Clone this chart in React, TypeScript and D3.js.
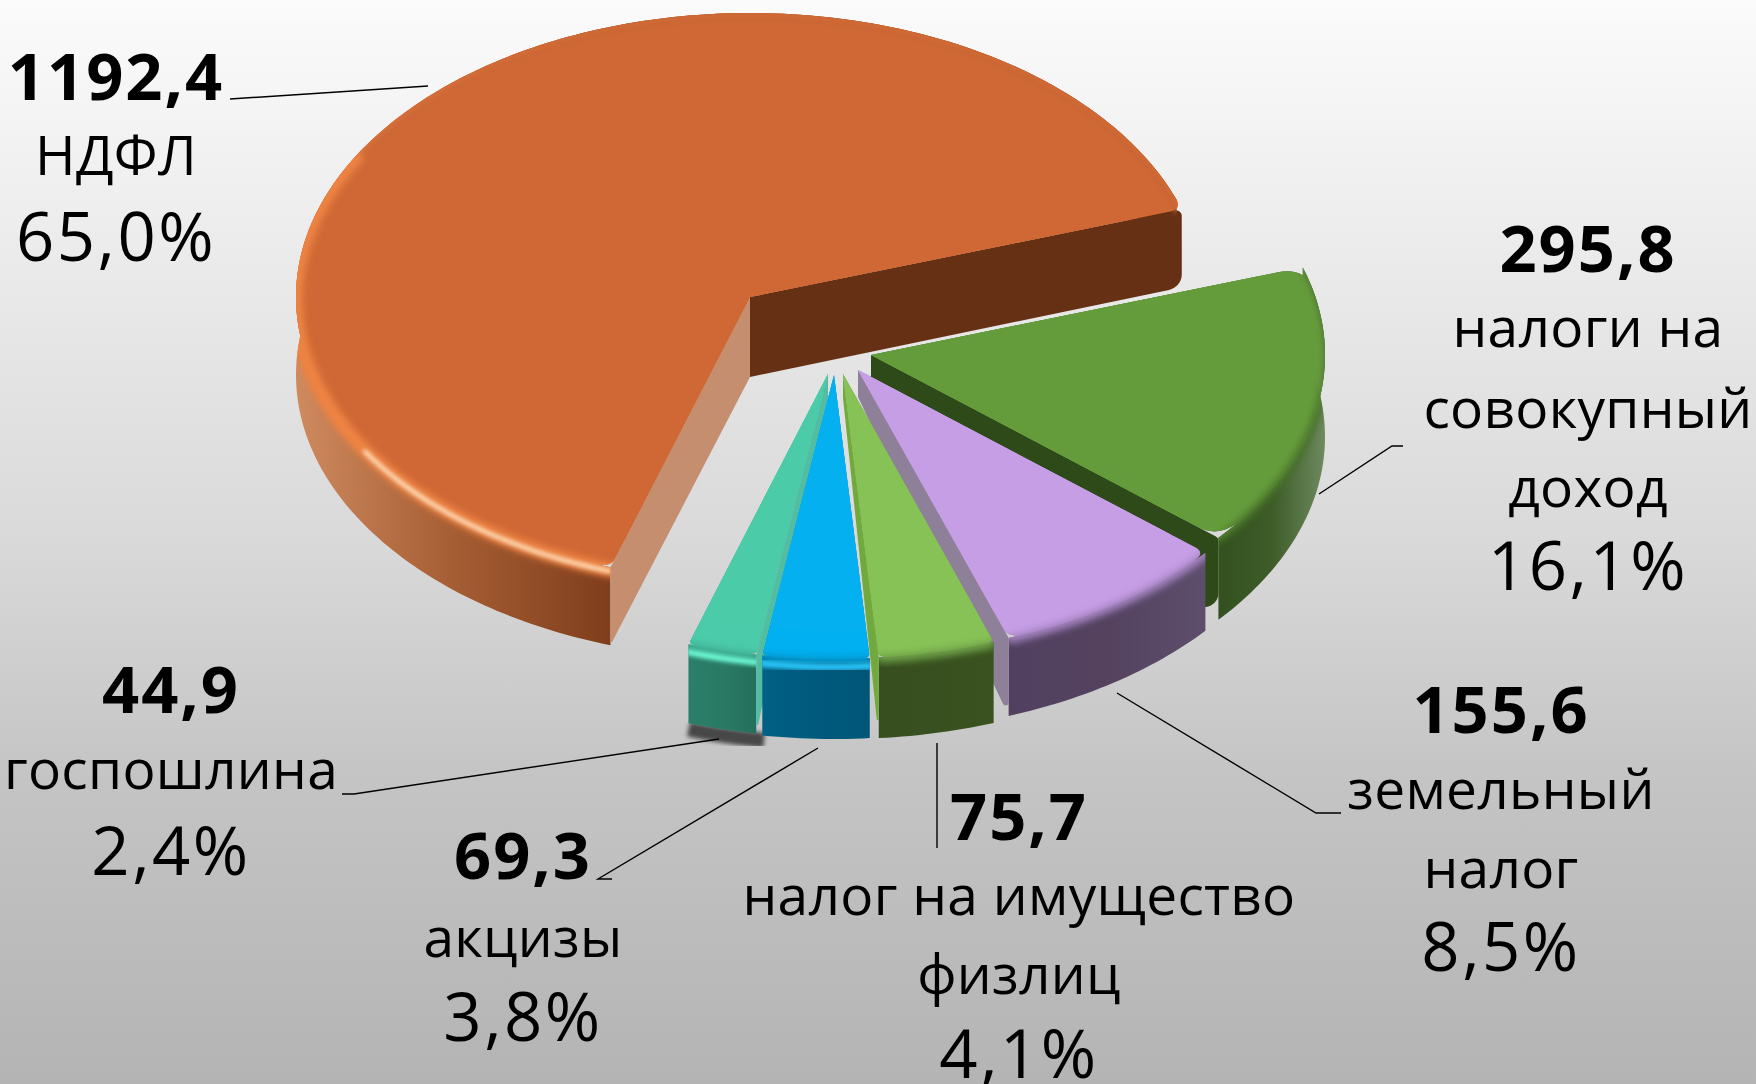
import React from "react";
import * as d3 from "d3";

// values, млрд руб, clockwise from the right-hand edge of the НДФЛ slice
const names = ["совокупный", "земельный", "имущество", "акцизы", "госпошлина", "НДФЛ"];
const values = [295.8, 155.6, 75.7, 69.3, 44.9, 1192.4];
const valueLabels = ["295,8", "155,6", "75,7", "69,3", "44,9", "1192,4"];
const shareLabels = ["16,1%", "8,5%", "4,1%", "3,8%", "2,4%", "65,0%"];
const nameLines = [
  ["налоги на", "совокупный", "доход"],
  ["земельный", "налог"],
  ["налог на имущество", "физлиц"],
  ["акцизы"],
  ["госпошлина"],
  ["НДФЛ"],
];

const width = 1756;
const height = 1084;
const cx = 750;
const cy = 297;
const rx = 454;
const ry = 284;
const rad = Math.PI / 180;

// per slice drawing setup, same order as values
const explode = [[121, 58], [108, 73], [93, 77], [84, 78], [78, 77], [0, 0]];
const apexDepth = [22, 27, 24, 24, 24, 80];
const rimDepth = [82, 78, 81, 80, 79, 78];
const cornerSize = [4, 2, 1, 1, 1, 2];
const wallTrim = [0, 0, 0, 0, 0, 2];
const topColor = ["#659c3b", "#c69ee6", "#87c257", "#05b0f0", "#4ccba9", "#cf6835"];
const bevelColor = ["#3d6424", "#8d6fa6", "#5f8c3c", "#0488bb", "#37a58a", "#ea7a3f"];
const startFace = [null, null, null, null, "#52bda3", "#c58f6f"];
const endFace = ["#2e4a18", "#8e8098", "#72a93f", null, null, "#663014"];
const startRound = [1, 1, 1, 1, 1, 1];
const endRound = [14, 3, 1, 1, 1, 16];
const wallStops = [
  ["#33511f", "#3d5c28", "#6d8a60"],
  ["#514060", "#54425f", "#5d4e6c"],
  ["#374f1f", "#38501f", "#39521f"],
  ["#006085", "#005a7e", "#005677"],
  ["#2b7f6a", "#297a65", "#24705c"],
  ["#cf8a60", "#a55d33", "#7f3e1c"],
];
const glints = [
  { slice: 5, from: 196, to: 300, color: "#ee8342", size: 13, blur: 3.5, drop: 3 },
  { slice: 5, from: 198, to: 238, color: "#ffe9c8", size: 4, blur: 1.8, drop: 4 },
  { slice: 4, from: 189, to: 198, color: "#6fffd9", size: 6, blur: 2, drop: 8 },
  { slice: 3, from: 175, to: 190, color: "#2bc6fb", size: 7, blur: 2.5, drop: 8 },
];

// label anchor x and baseline per row: value, name lines, share
const labelX = [1588, 1501, 1019, 523, 171, 116];
const labelBase = [
  [272, 347, 428, 507, 590],
  [733, 809, 888, 971],
  [840, 915, 994, 1078],
  [879, 957, 1041],
  [713, 789, 875],
  [100, 175, 261],
];
const leaders = [
  [[1403, 446], [1392, 446], [1319, 494]],
  [[1341, 813], [1316, 813], [1117, 693]],
  [[937, 848], [937, 743]],
  [[612, 879], [598, 879], [818, 748]],
  [[342, 794], [354, 794], [719, 739]],
  [[230, 99], [428, 86]],
];

const pieArcs = d3
  .pie<number>()
  .sort(null)
  .startAngle(72 * rad)
  .endAngle(432 * rad)(values);

const lineGen = d3.line();

function project(a: number, r: number, e: number[], z = 0): [number, number] {
  return [cx + e[0] + rx * r * Math.sin(a), cy + e[1] - ry * r * Math.cos(a) + z];
}

function rimPoints(a0: number, a1: number, e: number[], z = 0, r = 1) {
  const n = Math.max(4, Math.ceil((a1 - a0) / rad));
  return d3.range(n + 1).map((i) => project(a0 + ((a1 - a0) * i) / n, r, e, z));
}

// top face outline, rim corners slightly rounded
function sectorPath(a0: number, a1: number, e: number[], cornerDeg: number) {
  const corner = cornerDeg * rad;
  const back = 1 - cornerDeg * 0.015;
  const p = d3.path();
  const apex = project(0, 0, e);
  p.moveTo(apex[0], apex[1]);
  const s0 = project(a0, back, e);
  p.lineTo(s0[0], s0[1]);
  const c0 = project(a0, 1, e);
  const t0 = project(a0 + corner, 1, e);
  p.quadraticCurveTo(c0[0], c0[1], t0[0], t0[1]);
  rimPoints(a0 + corner, a1 - corner, e).forEach((q) => p.lineTo(q[0], q[1]));
  const c1 = project(a1, 1, e);
  const s1 = project(a1, back, e);
  p.quadraticCurveTo(c1[0], c1[1], s1[0], s1[1]);
  p.closePath();
  return p.toString();
}

function plainSector(a0: number, a1: number, e: number[], r: number) {
  return lineGen([project(0, 0, e), ...rimPoints(a0, a1, e, 0, r)]) + "Z";
}

function wallPath(a0: number, a1: number, e: number[], depth: number) {
  const upper = rimPoints(a0, a1, e);
  const lower = rimPoints(a0, a1, e, depth).reverse();
  return lineGen([...upper, ...lower]) + "Z";
}

// radial cut face, rounded at the two corners on the rim side
function facePath(a: number, e: number[], top: number, depth: number, round: number) {
  const apex = project(0, 0, e);
  const rim = project(a, 1, e);
  const p = d3.path();
  p.moveTo(apex[0], apex[1]);
  p.arcTo(rim[0], rim[1], rim[0], rim[1] + depth, round / 3);
  p.arcTo(rim[0], rim[1] + depth, apex[0], apex[1] + top, round);
  p.lineTo(apex[0], apex[1] + top);
  p.closePath();
  return p.toString();
}

const drawOrder = [5, 0, 1, 2, 4, 3];
const labelFont = "'Open Sans', 'Noto Sans', sans-serif";

export default function App() {
  return (
    <svg
      width={width}
      height={height}
      viewBox={`0 0 ${width} ${height}`}
      style={{ position: "absolute", left: 0, top: 0, display: "block" }}
    >
      <defs>
        <linearGradient id="bg" x1="0" y1="0" x2="0" y2="1">
          <stop offset="0" stopColor="#fbfbfb" />
          <stop offset="0.5" stopColor="#d9d9d9" />
          <stop offset="0.72" stopColor="#c4c4c4" />
          <stop offset="1" stopColor="#b4b4b4" />
        </linearGradient>
        <filter id="soft" x="-10%" y="-10%" width="120%" height="120%">
          <feGaussianBlur stdDeviation="5" />
        </filter>
        <filter id="soft2" x="-20%" y="-50%" width="140%" height="200%">
          <feGaussianBlur stdDeviation="2" />
        </filter>
        <filter id="soft4" x="-20%" y="-50%" width="140%" height="200%">
          <feGaussianBlur stdDeviation="3.5" />
        </filter>
        {pieArcs.map((d, i) => {
          const pts = rimPoints(d.startAngle, d.endAngle, explode[i]);
          return (
            <React.Fragment key={names[i]}>
              <linearGradient
                id={`wall${i}`}
                gradientUnits="userSpaceOnUse"
                x1={d3.min(pts, (q) => q[0])}
                x2={i === 5 ? project(d.startAngle, 1, explode[i])[0] : d3.max(pts, (q) => q[0])}
                y1="0"
                y2="0"
              >
                {wallStops[i].map((c, k) => (
                  <stop key={k} offset={k / 2} stopColor={c} />
                ))}
              </linearGradient>
              <clipPath id={`clip${i}`}>
                <path d={sectorPath(d.startAngle, d.endAngle, explode[i], cornerSize[i])} />
                <path d={wallPath(d.startAngle, d.endAngle - wallTrim[i] * rad, explode[i], rimDepth[i])} />
              </clipPath>
              <clipPath id={`clipTop${i}`}>
                <path d={sectorPath(d.startAngle, d.endAngle, explode[i], cornerSize[i])} />
              </clipPath>
            </React.Fragment>
          );
        })}
      </defs>

      <rect width={width} height={height} fill="url(#bg)" />

      {/* dark smudge under the госпошлина slice */}
      <path
        d={lineGen(rimPoints(pieArcs[4].startAngle - 1 * rad, pieArcs[4].endAngle, explode[4], rimDepth[4] + 6)) ?? ""}
        fill="none"
        stroke="#474747"
        strokeWidth={15}
        filter="url(#soft2)"
      />

      {drawOrder.map((i) => {
        const d = pieArcs[i];
        const e = explode[i];
        const a0 = d.startAngle;
        const a1 = d.endAngle;
        const sector = sectorPath(a0, a1, e, cornerSize[i]);
        // wider than the slice so that only the rim edge gets soft; the clip cuts the rest
        const spread = plainSector(a0 - 25 * rad, a1 + 25 * rad, e, 1);
        return (
          <g key={names[i]}>
            <path d={sector} fill={bevelColor[i]} />
            <path d={wallPath(a0, a1 - wallTrim[i] * rad, e, rimDepth[i])} fill={`url(#wall${i})`} />
            {startFace[i] && <path d={facePath(a0, e, apexDepth[i], rimDepth[i], startRound[i])} fill={startFace[i]!} />}
            {endFace[i] && <path d={facePath(a1, e, apexDepth[i], rimDepth[i], endRound[i])} fill={endFace[i]!} />}
            <g clipPath={`url(#clip${i})`}>
              <path
                d={lineGen(rimPoints(a0, a1, e, 2)) ?? ""}
                fill="none"
                stroke={bevelColor[i]}
                strokeWidth={8}
                filter="url(#soft4)"
              />
            </g>
            <g clipPath={`url(#${i === 5 ? "clipTop" : "clip"}${i})`}>
              <path d={spread} fill={topColor[i]} filter="url(#soft)" />
            </g>
            <g clipPath={`url(#clip${i})`}>
              {glints
                .filter((g) => g.slice === i)
                .map((g, k) => (
                  <path
                    key={k}
                    d={lineGen(rimPoints(g.from * rad, g.to * rad, e, g.drop)) ?? ""}
                    fill="none"
                    stroke={g.color}
                    strokeWidth={g.size}
                    strokeLinecap="round"
                    filter={g.blur > 2.5 ? "url(#soft4)" : "url(#soft2)"}
                  />
                ))}
            </g>
            <path d={plainSector(a0, a1, e, 0.9)} fill={topColor[i]} />
          </g>
        );
      })}

      {leaders.map((pts, i) => (
        <path
          key={names[i]}
          d={lineGen(pts as [number, number][]) ?? ""}
          fill="none"
          stroke="#000"
          strokeWidth={1.4}
        />
      ))}

      <g fontFamily={labelFont} textAnchor="middle" fill="#000">
        {names.map((n, i) => {
          const rows = [valueLabels[i], ...nameLines[i], shareLabels[i]];
          return rows.map((row, k) => {
            const isShare = k === rows.length - 1;
            return (
              <text
                key={`${n}${k}`}
                x={labelX[i]}
                y={labelBase[i][k]}
                fontSize={k === 0 ? 65 : isShare ? 67 : 55}
                fontWeight={k === 0 ? 700 : 400}
                letterSpacing={k === 0 ? 2 : isShare ? 2.5 : 0.3}
              >
                {row}
              </text>
            );
          });
        })}
      </g>
    </svg>
  );
}
